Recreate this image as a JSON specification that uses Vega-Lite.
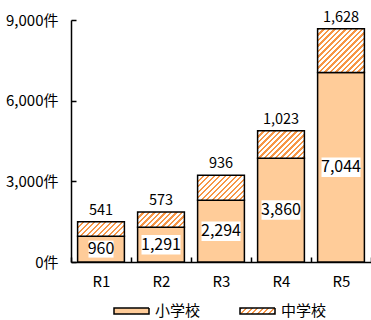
{
  "$schema": "https://vega.github.io/schema/vega-lite/v6.json",
  "width": 300,
  "height": 242,
  "autosize": "none",
  "padding": {"left": 71, "top": 20, "right": 0, "bottom": 58},
  "config": {
    "font": "Noto Sans CJK JP",
    "view": {"stroke": null},
    "axis": {"labelColor": "black", "domainColor": "black", "domainWidth": 1.5, "tickColor": "black", "tickWidth": 1.5, "grid": false},
    "legend": {
      "title": null, "orient": "none", "direction": "horizontal", "padding": 0,
      "symbolType": "M-1,-0.17H1V0.17H-1Z", "symbolSize": 1225, "symbolStrokeWidth": 1.5, "symbolOpacity": 1,
      "labelFontSize": 15, "labelColor": "black", "labelOffset": 5
    }
  },
  "data": {
    "values": [
      {"year": "R1", "type": "小学校", "count": 960},
      {"year": "R1", "type": "中学校", "count": 541},
      {"year": "R2", "type": "小学校", "count": 1291},
      {"year": "R2", "type": "中学校", "count": 573},
      {"year": "R3", "type": "小学校", "count": 2294},
      {"year": "R3", "type": "中学校", "count": 936},
      {"year": "R4", "type": "小学校", "count": 3860},
      {"year": "R4", "type": "中学校", "count": 1023},
      {"year": "R5", "type": "小学校", "count": 7044},
      {"year": "R5", "type": "中学校", "count": 1628}
    ]
  },
  "transform": [
    {"stack": "count", "groupby": ["year"], "sort": [{"field": "type", "order": "descending"}], "as": ["lo", "hi"]},
    {"calculate": "(datum.lo + datum.hi) / 2", "as": "mid"}
  ],
  "encoding": {
    "x": {
      "field": "year", "type": "nominal", "title": null,
      "scale": {"paddingInner": 0, "paddingOuter": 0},
      "axis": {"labelAngle": 0, "tickBand": "extent", "tickSize": -5, "labelPadding": 17, "labelFontSize": 15}
    }
  },
  "resolve": {"scale": {"strokeDash": "independent"}, "legend": {"strokeDash": "independent"}},
  "layer": [
    {
      "transform": [{"filter": "datum.type === '小学校'"}],
      "mark": {"type": "bar", "width": {"band": 0.78}, "fill": "#FFCC99", "stroke": "black", "strokeWidth": 1.5},
      "encoding": {
        "y": {
          "field": "lo", "type": "quantitative", "title": null,
          "scale": {"domain": [0, 9000], "nice": false},
          "axis": {"values": [0, 3000, 6000, 9000], "labelExpr": "format(datum.value, ',') + '件'", "tickSize": -5, "labelPadding": 18, "labelFontSize": 15}
        },
        "y2": {"field": "hi"},
        "strokeDash": {
          "field": "type", "type": "nominal",
          "scale": {"domain": ["小学校"], "range": [[1, 0]]},
          "legend": {"legendX": 42, "legendY": 272.5}
        }
      }
    },
    {
      "transform": [{"filter": "datum.type === '中学校'"}],
      "mark": {"type": "bar", "width": {"band": 0.78}, "stroke": "black", "strokeWidth": 1.5},
      "encoding": {
        "y": {"field": "lo", "type": "quantitative"},
        "y2": {"field": "hi"},
        "strokeDash": {
          "field": "type", "type": "nominal",
          "scale": {"domain": ["中学校"], "range": [[1, 0]]},
          "legend": {"legendX": 168, "legendY": 272.5}
        },
        "fill": {
          "condition": [
            {"test": "datum.year === 'R1'", "value": {"gradient": "linear", "x1": 0, "y1": 0, "x2": 2.1433, "y2": 0.6662, "stops": [
              {"offset": 0, "color": "#F79646"}, {"offset": 0.02, "color": "#F79646"}, {"offset": 0.02, "color": "#fff"}, {"offset": 0.05, "color": "#fff"},
              {"offset": 0.05, "color": "#F79646"}, {"offset": 0.07, "color": "#F79646"}, {"offset": 0.07, "color": "#fff"}, {"offset": 0.1, "color": "#fff"},
              {"offset": 0.1, "color": "#F79646"}, {"offset": 0.12, "color": "#F79646"}, {"offset": 0.12, "color": "#fff"}, {"offset": 0.15, "color": "#fff"},
              {"offset": 0.15, "color": "#F79646"}, {"offset": 0.17, "color": "#F79646"}, {"offset": 0.17, "color": "#fff"}, {"offset": 0.2, "color": "#fff"},
              {"offset": 0.2, "color": "#F79646"}, {"offset": 0.22, "color": "#F79646"}, {"offset": 0.22, "color": "#fff"}, {"offset": 0.25, "color": "#fff"},
              {"offset": 0.25, "color": "#F79646"}, {"offset": 0.27, "color": "#F79646"}, {"offset": 0.27, "color": "#fff"}, {"offset": 0.3, "color": "#fff"},
              {"offset": 0.3, "color": "#F79646"}, {"offset": 0.32, "color": "#F79646"}, {"offset": 0.32, "color": "#fff"}, {"offset": 0.35, "color": "#fff"},
              {"offset": 0.35, "color": "#F79646"}, {"offset": 0.37, "color": "#F79646"}, {"offset": 0.37, "color": "#fff"}, {"offset": 0.4, "color": "#fff"},
              {"offset": 0.4, "color": "#F79646"}, {"offset": 0.42, "color": "#F79646"}, {"offset": 0.42, "color": "#fff"}, {"offset": 0.45, "color": "#fff"},
              {"offset": 0.45, "color": "#F79646"}, {"offset": 0.47, "color": "#F79646"}, {"offset": 0.47, "color": "#fff"}, {"offset": 0.5, "color": "#fff"},
              {"offset": 0.5, "color": "#F79646"}, {"offset": 0.52, "color": "#F79646"}, {"offset": 0.52, "color": "#fff"}, {"offset": 0.55, "color": "#fff"},
              {"offset": 0.55, "color": "#F79646"}, {"offset": 0.57, "color": "#F79646"}, {"offset": 0.57, "color": "#fff"}, {"offset": 0.6, "color": "#fff"}
            ]}},
            {"test": "datum.year === 'R2'", "value": {"gradient": "linear", "x1": 0, "y1": 0, "x2": 2.1206, "y2": 0.6981, "stops": [
              {"offset": 0, "color": "#F79646"}, {"offset": 0.02, "color": "#F79646"}, {"offset": 0.02, "color": "#fff"}, {"offset": 0.05, "color": "#fff"},
              {"offset": 0.05, "color": "#F79646"}, {"offset": 0.07, "color": "#F79646"}, {"offset": 0.07, "color": "#fff"}, {"offset": 0.1, "color": "#fff"},
              {"offset": 0.1, "color": "#F79646"}, {"offset": 0.12, "color": "#F79646"}, {"offset": 0.12, "color": "#fff"}, {"offset": 0.15, "color": "#fff"},
              {"offset": 0.15, "color": "#F79646"}, {"offset": 0.17, "color": "#F79646"}, {"offset": 0.17, "color": "#fff"}, {"offset": 0.2, "color": "#fff"},
              {"offset": 0.2, "color": "#F79646"}, {"offset": 0.22, "color": "#F79646"}, {"offset": 0.22, "color": "#fff"}, {"offset": 0.25, "color": "#fff"},
              {"offset": 0.25, "color": "#F79646"}, {"offset": 0.27, "color": "#F79646"}, {"offset": 0.27, "color": "#fff"}, {"offset": 0.3, "color": "#fff"},
              {"offset": 0.3, "color": "#F79646"}, {"offset": 0.32, "color": "#F79646"}, {"offset": 0.32, "color": "#fff"}, {"offset": 0.35, "color": "#fff"},
              {"offset": 0.35, "color": "#F79646"}, {"offset": 0.37, "color": "#F79646"}, {"offset": 0.37, "color": "#fff"}, {"offset": 0.4, "color": "#fff"},
              {"offset": 0.4, "color": "#F79646"}, {"offset": 0.42, "color": "#F79646"}, {"offset": 0.42, "color": "#fff"}, {"offset": 0.45, "color": "#fff"},
              {"offset": 0.45, "color": "#F79646"}, {"offset": 0.47, "color": "#F79646"}, {"offset": 0.47, "color": "#fff"}, {"offset": 0.5, "color": "#fff"},
              {"offset": 0.5, "color": "#F79646"}, {"offset": 0.52, "color": "#F79646"}, {"offset": 0.52, "color": "#fff"}, {"offset": 0.55, "color": "#fff"},
              {"offset": 0.55, "color": "#F79646"}, {"offset": 0.57, "color": "#F79646"}, {"offset": 0.57, "color": "#fff"}, {"offset": 0.6, "color": "#fff"}
            ]}},
            {"test": "datum.year === 'R3'", "value": {"gradient": "linear", "x1": 0, "y1": 0, "x2": 1.8231, "y2": 0.9804, "stops": [
              {"offset": 0, "color": "#F79646"}, {"offset": 0.02, "color": "#F79646"}, {"offset": 0.02, "color": "#fff"}, {"offset": 0.05, "color": "#fff"},
              {"offset": 0.05, "color": "#F79646"}, {"offset": 0.07, "color": "#F79646"}, {"offset": 0.07, "color": "#fff"}, {"offset": 0.1, "color": "#fff"},
              {"offset": 0.1, "color": "#F79646"}, {"offset": 0.12, "color": "#F79646"}, {"offset": 0.12, "color": "#fff"}, {"offset": 0.15, "color": "#fff"},
              {"offset": 0.15, "color": "#F79646"}, {"offset": 0.17, "color": "#F79646"}, {"offset": 0.17, "color": "#fff"}, {"offset": 0.2, "color": "#fff"},
              {"offset": 0.2, "color": "#F79646"}, {"offset": 0.22, "color": "#F79646"}, {"offset": 0.22, "color": "#fff"}, {"offset": 0.25, "color": "#fff"},
              {"offset": 0.25, "color": "#F79646"}, {"offset": 0.27, "color": "#F79646"}, {"offset": 0.27, "color": "#fff"}, {"offset": 0.3, "color": "#fff"},
              {"offset": 0.3, "color": "#F79646"}, {"offset": 0.32, "color": "#F79646"}, {"offset": 0.32, "color": "#fff"}, {"offset": 0.35, "color": "#fff"},
              {"offset": 0.35, "color": "#F79646"}, {"offset": 0.37, "color": "#F79646"}, {"offset": 0.37, "color": "#fff"}, {"offset": 0.4, "color": "#fff"},
              {"offset": 0.4, "color": "#F79646"}, {"offset": 0.42, "color": "#F79646"}, {"offset": 0.42, "color": "#fff"}, {"offset": 0.45, "color": "#fff"},
              {"offset": 0.45, "color": "#F79646"}, {"offset": 0.47, "color": "#F79646"}, {"offset": 0.47, "color": "#fff"}, {"offset": 0.5, "color": "#fff"},
              {"offset": 0.5, "color": "#F79646"}, {"offset": 0.52, "color": "#F79646"}, {"offset": 0.52, "color": "#fff"}, {"offset": 0.55, "color": "#fff"},
              {"offset": 0.55, "color": "#F79646"}, {"offset": 0.57, "color": "#F79646"}, {"offset": 0.57, "color": "#fff"}, {"offset": 0.6, "color": "#fff"},
              {"offset": 0.6, "color": "#F79646"}, {"offset": 0.62, "color": "#F79646"}, {"offset": 0.62, "color": "#fff"}, {"offset": 0.65, "color": "#fff"},
              {"offset": 0.65, "color": "#F79646"}, {"offset": 0.67, "color": "#F79646"}, {"offset": 0.67, "color": "#fff"}, {"offset": 0.7, "color": "#fff"}
            ]}},
            {"test": "datum.year === 'R4'", "value": {"gradient": "linear", "x1": 0, "y1": 0, "x2": 1.7469, "y2": 1.0268, "stops": [
              {"offset": 0, "color": "#F79646"}, {"offset": 0.02, "color": "#F79646"}, {"offset": 0.02, "color": "#fff"}, {"offset": 0.05, "color": "#fff"},
              {"offset": 0.05, "color": "#F79646"}, {"offset": 0.07, "color": "#F79646"}, {"offset": 0.07, "color": "#fff"}, {"offset": 0.1, "color": "#fff"},
              {"offset": 0.1, "color": "#F79646"}, {"offset": 0.12, "color": "#F79646"}, {"offset": 0.12, "color": "#fff"}, {"offset": 0.15, "color": "#fff"},
              {"offset": 0.15, "color": "#F79646"}, {"offset": 0.17, "color": "#F79646"}, {"offset": 0.17, "color": "#fff"}, {"offset": 0.2, "color": "#fff"},
              {"offset": 0.2, "color": "#F79646"}, {"offset": 0.22, "color": "#F79646"}, {"offset": 0.22, "color": "#fff"}, {"offset": 0.25, "color": "#fff"},
              {"offset": 0.25, "color": "#F79646"}, {"offset": 0.27, "color": "#F79646"}, {"offset": 0.27, "color": "#fff"}, {"offset": 0.3, "color": "#fff"},
              {"offset": 0.3, "color": "#F79646"}, {"offset": 0.32, "color": "#F79646"}, {"offset": 0.32, "color": "#fff"}, {"offset": 0.35, "color": "#fff"},
              {"offset": 0.35, "color": "#F79646"}, {"offset": 0.37, "color": "#F79646"}, {"offset": 0.37, "color": "#fff"}, {"offset": 0.4, "color": "#fff"},
              {"offset": 0.4, "color": "#F79646"}, {"offset": 0.42, "color": "#F79646"}, {"offset": 0.42, "color": "#fff"}, {"offset": 0.45, "color": "#fff"},
              {"offset": 0.45, "color": "#F79646"}, {"offset": 0.47, "color": "#F79646"}, {"offset": 0.47, "color": "#fff"}, {"offset": 0.5, "color": "#fff"},
              {"offset": 0.5, "color": "#F79646"}, {"offset": 0.52, "color": "#F79646"}, {"offset": 0.52, "color": "#fff"}, {"offset": 0.55, "color": "#fff"},
              {"offset": 0.55, "color": "#F79646"}, {"offset": 0.57, "color": "#F79646"}, {"offset": 0.57, "color": "#fff"}, {"offset": 0.6, "color": "#fff"},
              {"offset": 0.6, "color": "#F79646"}, {"offset": 0.62, "color": "#F79646"}, {"offset": 0.62, "color": "#fff"}, {"offset": 0.65, "color": "#fff"},
              {"offset": 0.65, "color": "#F79646"}, {"offset": 0.67, "color": "#F79646"}, {"offset": 0.67, "color": "#fff"}, {"offset": 0.7, "color": "#fff"}
            ]}},
            {"test": "datum.year === 'R5'", "value": {"gradient": "linear", "x1": 0, "y1": 0, "x2": 1.2536, "y2": 1.1726, "stops": [
              {"offset": 0, "color": "#F79646"}, {"offset": 0.02, "color": "#F79646"}, {"offset": 0.02, "color": "#fff"}, {"offset": 0.05, "color": "#fff"},
              {"offset": 0.05, "color": "#F79646"}, {"offset": 0.07, "color": "#F79646"}, {"offset": 0.07, "color": "#fff"}, {"offset": 0.1, "color": "#fff"},
              {"offset": 0.1, "color": "#F79646"}, {"offset": 0.12, "color": "#F79646"}, {"offset": 0.12, "color": "#fff"}, {"offset": 0.15, "color": "#fff"},
              {"offset": 0.15, "color": "#F79646"}, {"offset": 0.17, "color": "#F79646"}, {"offset": 0.17, "color": "#fff"}, {"offset": 0.2, "color": "#fff"},
              {"offset": 0.2, "color": "#F79646"}, {"offset": 0.22, "color": "#F79646"}, {"offset": 0.22, "color": "#fff"}, {"offset": 0.25, "color": "#fff"},
              {"offset": 0.25, "color": "#F79646"}, {"offset": 0.27, "color": "#F79646"}, {"offset": 0.27, "color": "#fff"}, {"offset": 0.3, "color": "#fff"},
              {"offset": 0.3, "color": "#F79646"}, {"offset": 0.32, "color": "#F79646"}, {"offset": 0.32, "color": "#fff"}, {"offset": 0.35, "color": "#fff"},
              {"offset": 0.35, "color": "#F79646"}, {"offset": 0.37, "color": "#F79646"}, {"offset": 0.37, "color": "#fff"}, {"offset": 0.4, "color": "#fff"},
              {"offset": 0.4, "color": "#F79646"}, {"offset": 0.42, "color": "#F79646"}, {"offset": 0.42, "color": "#fff"}, {"offset": 0.45, "color": "#fff"},
              {"offset": 0.45, "color": "#F79646"}, {"offset": 0.47, "color": "#F79646"}, {"offset": 0.47, "color": "#fff"}, {"offset": 0.5, "color": "#fff"},
              {"offset": 0.5, "color": "#F79646"}, {"offset": 0.52, "color": "#F79646"}, {"offset": 0.52, "color": "#fff"}, {"offset": 0.55, "color": "#fff"},
              {"offset": 0.55, "color": "#F79646"}, {"offset": 0.57, "color": "#F79646"}, {"offset": 0.57, "color": "#fff"}, {"offset": 0.6, "color": "#fff"},
              {"offset": 0.6, "color": "#F79646"}, {"offset": 0.62, "color": "#F79646"}, {"offset": 0.62, "color": "#fff"}, {"offset": 0.65, "color": "#fff"},
              {"offset": 0.65, "color": "#F79646"}, {"offset": 0.67, "color": "#F79646"}, {"offset": 0.67, "color": "#fff"}, {"offset": 0.7, "color": "#fff"},
              {"offset": 0.7, "color": "#F79646"}, {"offset": 0.72, "color": "#F79646"}, {"offset": 0.72, "color": "#fff"}, {"offset": 0.75, "color": "#fff"},
              {"offset": 0.75, "color": "#F79646"}, {"offset": 0.77, "color": "#F79646"}, {"offset": 0.77, "color": "#fff"}, {"offset": 0.8, "color": "#fff"},
              {"offset": 0.8, "color": "#F79646"}, {"offset": 0.82, "color": "#F79646"}, {"offset": 0.82, "color": "#fff"}, {"offset": 0.85, "color": "#fff"}
            ]}}
          ],
          "value": {"gradient": "linear", "x1": 0, "y1": 0, "x2": 3.0546, "y2": 0.5193, "stops": [
            {"offset": 0, "color": "#F79646"}, {"offset": 0.02, "color": "#F79646"}, {"offset": 0.02, "color": "#fff"}, {"offset": 0.05, "color": "#fff"},
            {"offset": 0.05, "color": "#F79646"}, {"offset": 0.07, "color": "#F79646"}, {"offset": 0.07, "color": "#fff"}, {"offset": 0.1, "color": "#fff"},
            {"offset": 0.1, "color": "#F79646"}, {"offset": 0.12, "color": "#F79646"}, {"offset": 0.12, "color": "#fff"}, {"offset": 0.15, "color": "#fff"},
            {"offset": 0.15, "color": "#F79646"}, {"offset": 0.17, "color": "#F79646"}, {"offset": 0.17, "color": "#fff"}, {"offset": 0.2, "color": "#fff"},
            {"offset": 0.2, "color": "#F79646"}, {"offset": 0.22, "color": "#F79646"}, {"offset": 0.22, "color": "#fff"}, {"offset": 0.25, "color": "#fff"},
            {"offset": 0.25, "color": "#F79646"}, {"offset": 0.27, "color": "#F79646"}, {"offset": 0.27, "color": "#fff"}, {"offset": 0.3, "color": "#fff"},
            {"offset": 0.3, "color": "#F79646"}, {"offset": 0.32, "color": "#F79646"}, {"offset": 0.32, "color": "#fff"}, {"offset": 0.35, "color": "#fff"},
            {"offset": 0.35, "color": "#F79646"}, {"offset": 0.37, "color": "#F79646"}, {"offset": 0.37, "color": "#fff"}, {"offset": 0.4, "color": "#fff"}
          ]}
        }
      }
    },
    {
      "transform": [{"filter": "datum.type === '小学校'"}],
      "mark": {"type": "point", "filled": true, "fill": "white", "opacity": 1, "strokeWidth": 0},
      "encoding": {
        "y": {"field": "mid", "type": "quantitative"},
        "shape": {"condition": {"test": "datum.count < 1000", "value": "M-1,-0.68H1V0.68H-1Z"}, "value": "M-1,-0.5H1V0.5H-1Z"},
        "size": {"condition": {"test": "datum.count < 1000", "value": 625}, "value": 1521}
      }
    },
    {
      "transform": [{"filter": "datum.type === '小学校'"}],
      "mark": {"type": "text", "fontSize": 16, "baseline": "middle", "color": "black"},
      "encoding": {
        "y": {"field": "mid", "type": "quantitative"},
        "text": {"field": "count", "type": "quantitative", "format": ","}
      }
    },
    {
      "transform": [{"filter": "datum.type === '中学校'"}],
      "mark": {"type": "text", "fontSize": 14.5, "baseline": "alphabetic", "color": "black"},
      "encoding": {
        "y": {"field": "hi", "type": "quantitative"},
        "yOffset": {"condition": {"test": "datum.count >= 1000", "value": -2.5}, "value": -7},
        "text": {"field": "count", "type": "quantitative", "format": ","}
      }
    }
  ]
}
